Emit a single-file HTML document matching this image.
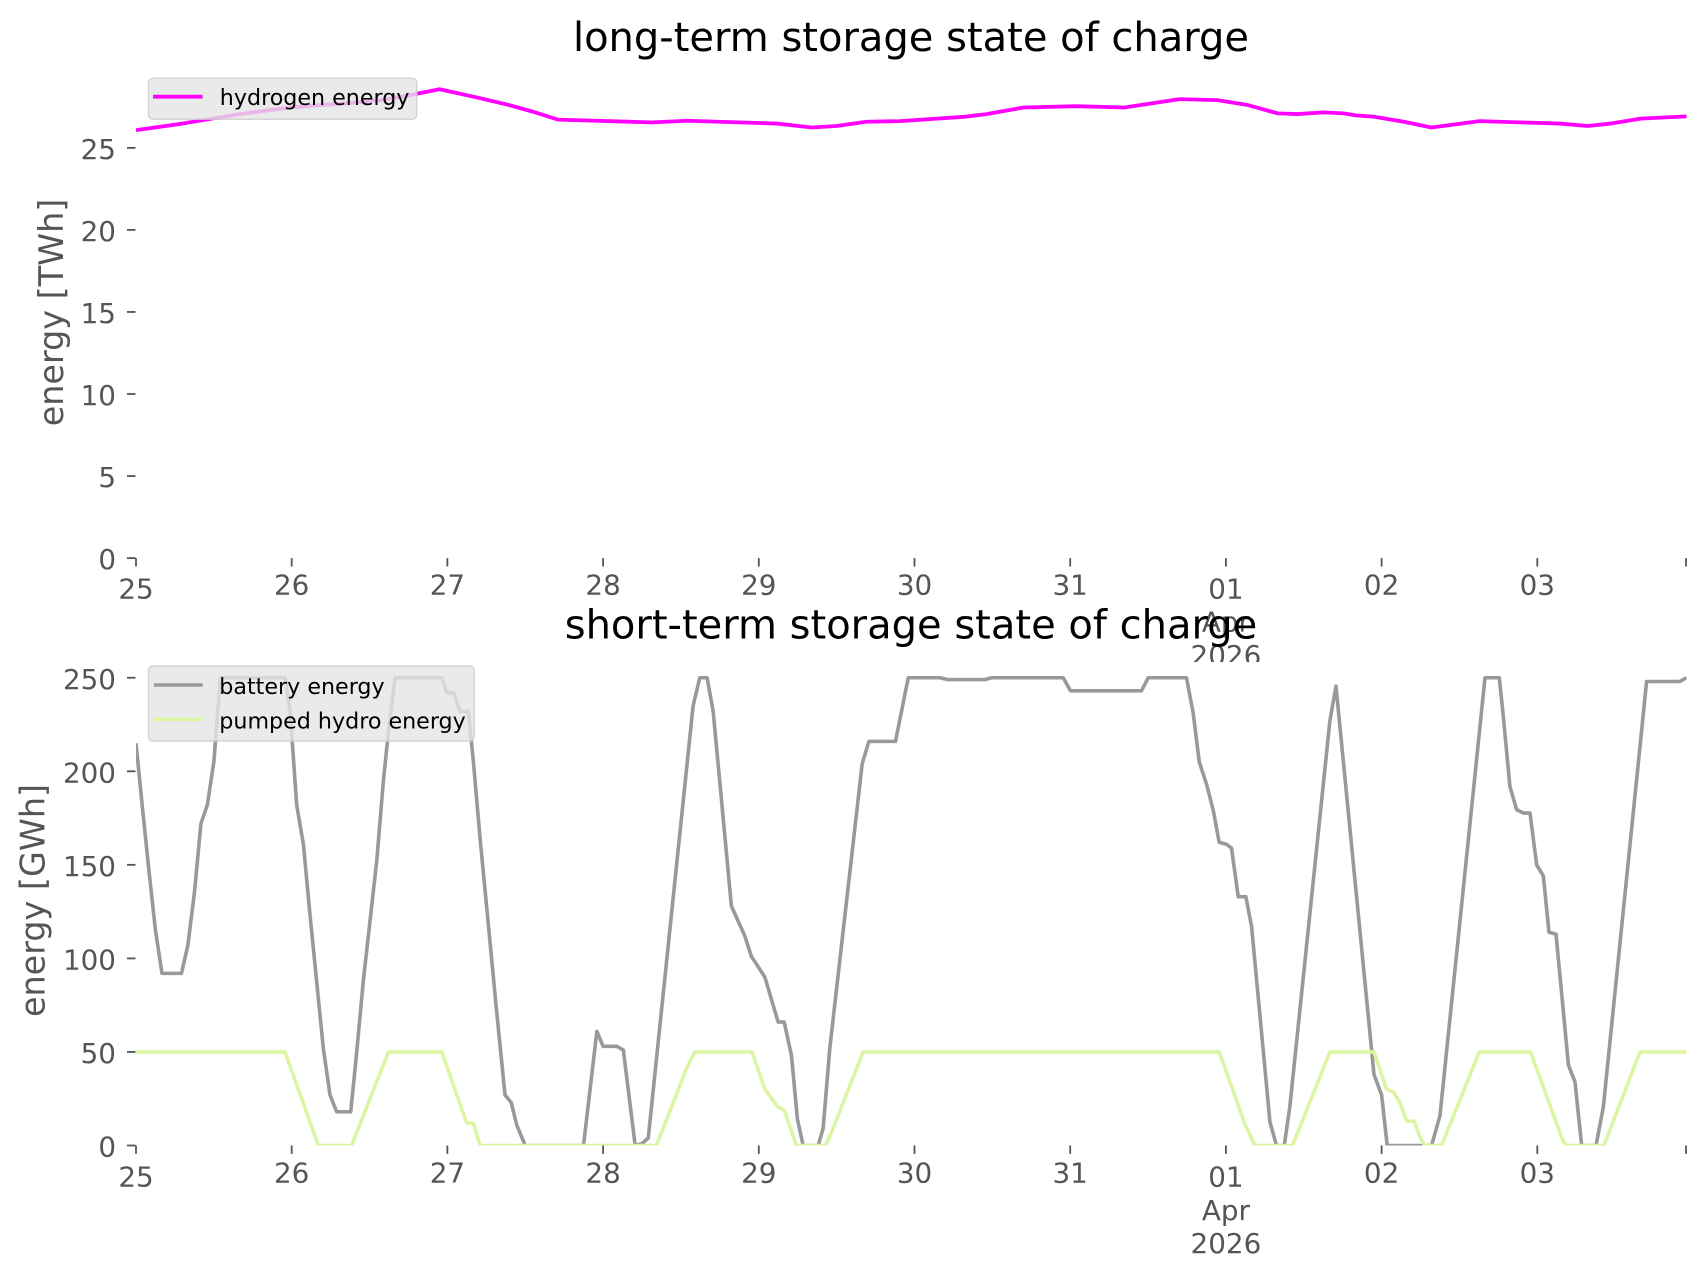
<!DOCTYPE html>
<html>
<head>
<meta charset="utf-8">
<style>
html,body{margin:0;padding:0;background:#ffffff;}
svg{display:block;}
text{font-family:"DejaVu Sans","Liberation Sans",sans-serif;}
</style>
</head>
<body>
<svg width="1706" height="1277" viewBox="0 0 1706 1277" xmlns="http://www.w3.org/2000/svg">
<defs>
<clipPath id="ctop"><rect x="136" y="67" width="1550.5" height="491.1"/></clipPath>
<clipPath id="cbot"><rect x="136" y="655" width="1550.5" height="490.5"/></clipPath>
</defs>
<rect x="0" y="0" width="1706" height="1277" fill="#ffffff"/>

<!-- ================= TOP AXES ================= -->
<text x="911" y="51" font-size="40" fill="#000" text-anchor="middle">long-term storage state of charge</text>

<g clip-path="url(#ctop)">
<g transform="translate(136,558.1) scale(155.7,-16.41)">
<path vector-effect="non-scaling-stroke" fill="none" stroke="#ff00ff" stroke-width="3.8" stroke-linejoin="round"
d="M0,26.08 L0.28,26.45 0.5,26.8 0.7,27.1 0.995,27.47 1.34,27.71 1.58,27.91 1.75,28.2 1.95,28.57 2.2,28.05 2.4,27.6 2.55,27.2 2.71,26.72 3.317,26.55 3.54,26.65 4.116,26.48 4.34,26.24 4.5,26.33 4.69,26.59 4.907,26.63 5.328,26.9 5.457,27.05 5.7,27.46 6.04,27.54 6.347,27.46 6.703,27.97 6.945,27.91 7.14,27.61 7.333,27.1 7.46,27.06 7.625,27.16 7.755,27.1 7.835,26.98 7.948,26.9 8.143,26.59 8.32,26.24 8.43,26.38 8.628,26.63 9.146,26.48 9.323,26.33 9.469,26.48 9.663,26.78 9.958,26.92"/>
</g>
</g>

<!-- top y ticks -->
<g stroke="#555" stroke-width="1.8">
<line x1="127" y1="558.1" x2="135.5" y2="558.1"/>
<line x1="127" y1="476.05" x2="135.5" y2="476.05"/>
<line x1="127" y1="394" x2="135.5" y2="394"/>
<line x1="127" y1="311.95" x2="135.5" y2="311.95"/>
<line x1="127" y1="229.9" x2="135.5" y2="229.9"/>
<line x1="127" y1="147.85" x2="135.5" y2="147.85"/>
</g>
<g font-size="27.8" fill="#555" text-anchor="end">
<text x="116" y="569.1">0</text>
<text x="116" y="487">5</text>
<text x="116" y="405">10</text>
<text x="116" y="323">15</text>
<text x="116" y="240.9">20</text>
<text x="116" y="158.9">25</text>
</g>
<text transform="translate(62.8,312.5) rotate(-90)" font-size="33.4" fill="#555" text-anchor="middle">energy [TWh]</text>

<!-- top x ticks -->
<g stroke="#555" stroke-width="1.8">
<line x1="136" y1="558.1" x2="136" y2="566.5"/>
<line x1="291.7" y1="558.1" x2="291.7" y2="566.5"/>
<line x1="447.4" y1="558.1" x2="447.4" y2="566.5"/>
<line x1="603.1" y1="558.1" x2="603.1" y2="566.5"/>
<line x1="758.8" y1="558.1" x2="758.8" y2="566.5"/>
<line x1="914.5" y1="558.1" x2="914.5" y2="566.5"/>
<line x1="1070.2" y1="558.1" x2="1070.2" y2="566.5"/>
<line x1="1225.9" y1="558.1" x2="1225.9" y2="566.5"/>
<line x1="1381.6" y1="558.1" x2="1381.6" y2="566.5"/>
<line x1="1537.3" y1="558.1" x2="1537.3" y2="566.5"/>
<line x1="1686" y1="558.1" x2="1686" y2="566.5"/>
</g>
<g font-size="27.8" fill="#555" text-anchor="middle">
<text x="136" y="598.3">25</text>
<text x="291.7" y="594.3">26</text>
<text x="447.4" y="594.3">27</text>
<text x="603.1" y="594.3">28</text>
<text x="758.8" y="594.3">29</text>
<text x="914.5" y="594.3">30</text>
<text x="1070.2" y="594.3">31</text>
<text x="1225.9" y="598.3">01</text>
<text x="1225.9" y="631.7">Apr</text>
<text x="1225.9" y="665.1">2026</text>
<text x="1381.6" y="594.3">02</text>
<text x="1537.3" y="594.3">03</text>
</g>

<!-- top legend -->
<rect x="148.5" y="78.3" width="268.2" height="41" rx="4.5" ry="4.5" fill="#e5e5e5" fill-opacity="0.8" stroke="#cccccc" stroke-opacity="0.8" stroke-width="1.5"/>
<line x1="153" y1="96.7" x2="202.5" y2="96.7" stroke="#ff00ff" stroke-width="3.8"/>
<text x="219.8" y="105" font-size="22.2" fill="#000">hydrogen energy</text>

<!-- ================= BOTTOM AXES ================= -->
<rect x="136" y="662" width="1550.5" height="483.5" fill="#ffffff"/>
<text x="911" y="638.5" font-size="40" fill="#000" text-anchor="middle">short-term storage state of charge</text>

<g clip-path="url(#cbot)">
<g transform="translate(136,1145.5) scale(155.7,-1.871)">
<path vector-effect="non-scaling-stroke" fill="none" stroke="#999999" stroke-width="3.6" stroke-linejoin="round"
d="M0,215 L0.042,180 0.083,147 0.125,115 0.167,92 0.292,92 0.333,107 0.375,135 0.417,172 0.458,182 0.5,205 0.542,250 0.958,250 0.99,232 1.032,182 1.075,161 1.118,123 1.203,52 1.246,27 1.289,18 1.379,18 1.413,46 1.46,88 1.546,152 1.589,195 1.621,221 1.664,250 1.964,250 1.996,242 2.04,242 2.08,232 2.135,232 2.167,205 2.21,164 2.27,112 2.317,71 2.37,27 2.41,23 2.445,11 2.5,0 2.874,0 2.96,61 3.0,53 3.088,53 3.13,51 3.206,0 3.25,1 3.29,4 3.578,235 3.621,250 3.668,250 3.707,232 3.824,128 3.867,120 3.91,112 3.953,101 4.039,90 4.124,66 4.163,66 4.21,48 4.248,14 4.285,0 4.381,0 4.413,9 4.456,52 4.664,204 4.707,216 4.878,216 4.96,250 5.163,250 5.216,249 5.452,249 5.495,250 5.955,250 6.002,243 6.458,243 6.501,250 6.747,250 6.79,231 6.829,205 6.876,193 6.919,179 6.957,162 7.004,161 7.036,159 7.079,133 7.128,133 7.165,117 7.283,12.5 7.325,0 7.375,0 7.411,21 7.668,227 7.707,245.5 7.951,38 8.0,27 8.036,0 8.321,0 8.375,16 8.664,250 8.756,250 8.782,229 8.824,192 8.867,179.5 8.91,177.7 8.953,177.7 8.996,150 9.039,144 9.075,114 9.12,113 9.2,43 9.242,34 9.285,0 9.377,0 9.424,20.5 9.702,248 9.916,248 9.958,250"/>
<path vector-effect="non-scaling-stroke" fill="none" stroke="#dbf5a3" stroke-width="3.6" stroke-linejoin="round"
d="M0,50 L0.957,50 1.171,0 1.385,0 1.621,50 1.964,50 2.124,12 2.167,12 2.21,0 3.343,0 3.535,41 3.589,50 3.957,50 4.039,30 4.124,20.5 4.163,19 4.242,0 4.428,0 4.467,7 4.67,50 6.957,50 7.122,11.6 7.186,0 7.428,0 7.668,50 7.951,50 8.032,30 8.075,28.6 8.118,23 8.161,13 8.21,13 8.246,4.5 8.278,0 8.385,0 8.627,50 8.957,50 9.167,2 9.19,0 9.428,0 9.66,50 9.958,50"/>
</g>
</g>

<!-- bottom y ticks -->
<g stroke="#555" stroke-width="1.8">
<line x1="127" y1="1145.5" x2="135.5" y2="1145.5"/>
<line x1="127" y1="1051.95" x2="135.5" y2="1051.95"/>
<line x1="127" y1="958.4" x2="135.5" y2="958.4"/>
<line x1="127" y1="864.85" x2="135.5" y2="864.85"/>
<line x1="127" y1="771.3" x2="135.5" y2="771.3"/>
<line x1="127" y1="677.75" x2="135.5" y2="677.75"/>
</g>
<g font-size="27.8" fill="#555" text-anchor="end">
<text x="116" y="1156.5">0</text>
<text x="116" y="1063">50</text>
<text x="116" y="969.4">100</text>
<text x="116" y="875.9">150</text>
<text x="116" y="782.3">200</text>
<text x="116" y="688.8">250</text>
</g>
<text transform="translate(44.3,900.5) rotate(-90)" font-size="33.4" fill="#555" text-anchor="middle">energy [GWh]</text>

<!-- bottom x ticks -->
<g stroke="#555" stroke-width="1.8">
<line x1="136" y1="1145.5" x2="136" y2="1153.9"/>
<line x1="291.7" y1="1145.5" x2="291.7" y2="1153.9"/>
<line x1="447.4" y1="1145.5" x2="447.4" y2="1153.9"/>
<line x1="603.1" y1="1145.5" x2="603.1" y2="1153.9"/>
<line x1="758.8" y1="1145.5" x2="758.8" y2="1153.9"/>
<line x1="914.5" y1="1145.5" x2="914.5" y2="1153.9"/>
<line x1="1070.2" y1="1145.5" x2="1070.2" y2="1153.9"/>
<line x1="1225.9" y1="1145.5" x2="1225.9" y2="1153.9"/>
<line x1="1381.6" y1="1145.5" x2="1381.6" y2="1153.9"/>
<line x1="1537.3" y1="1145.5" x2="1537.3" y2="1153.9"/>
<line x1="1686" y1="1145.5" x2="1686" y2="1153.9"/>
</g>
<g font-size="27.8" fill="#555" text-anchor="middle">
<text x="136" y="1186.7">25</text>
<text x="291.7" y="1182.7">26</text>
<text x="447.4" y="1182.7">27</text>
<text x="603.1" y="1182.7">28</text>
<text x="758.8" y="1182.7">29</text>
<text x="914.5" y="1182.7">30</text>
<text x="1070.2" y="1182.7">31</text>
<text x="1225.9" y="1186.7">01</text>
<text x="1225.9" y="1220">Apr</text>
<text x="1225.9" y="1253">2026</text>
<text x="1381.6" y="1182.7">02</text>
<text x="1537.3" y="1182.7">03</text>
</g>

<!-- bottom legend -->
<rect x="148.5" y="666" width="325.8" height="75" rx="4.5" ry="4.5" fill="#e5e5e5" fill-opacity="0.8" stroke="#cccccc" stroke-opacity="0.8" stroke-width="1.5"/>
<line x1="154" y1="685" x2="202.7" y2="685" stroke="#999999" stroke-width="3.6"/>
<text x="219.3" y="694" font-size="22.2" fill="#000">battery energy</text>
<line x1="154" y1="719.3" x2="202.7" y2="719.3" stroke="#dbf5a3" stroke-width="3.6"/>
<text x="219.3" y="728.3" font-size="22.2" fill="#000">pumped hydro energy</text>
</svg>
</body>
</html>
